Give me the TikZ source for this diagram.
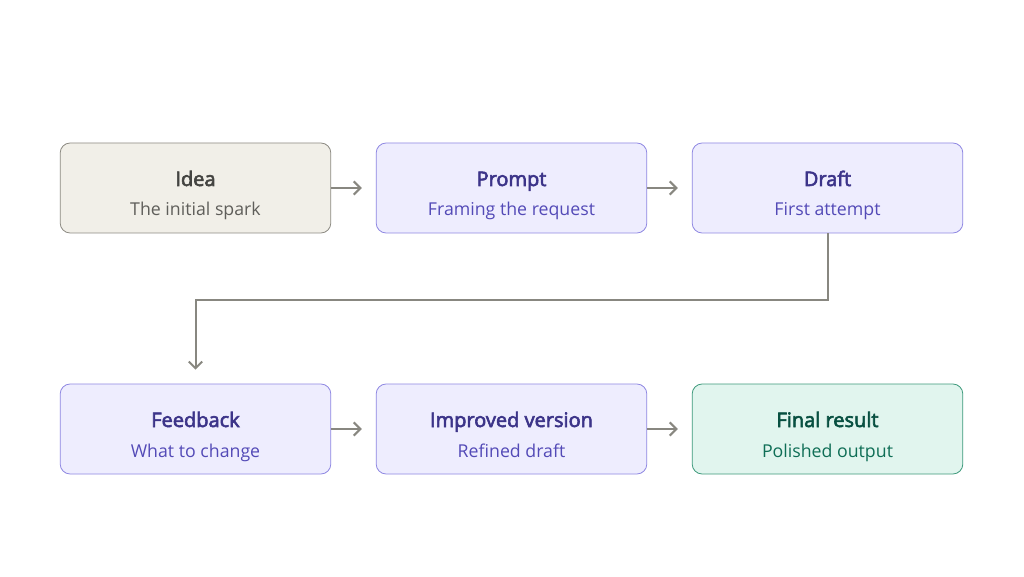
\documentclass[tikz,border=0pt]{standalone}
\usepackage{fontspec}
\setmainfont{Open Sans}
\newfontfamily\stagetitlefont{Open Sans}[FakeBold=3]
\usetikzlibrary{arrows.meta}
\definecolor{ideafill}{HTML}{F1EFE8}
\definecolor{ideaborder}{HTML}{8C8A82}
\definecolor{ideatitle}{HTML}{444441}
\definecolor{ideasub}{HTML}{5F5E5A}
\definecolor{purpfill}{HTML}{EEEDFE}
\definecolor{purpborder}{HTML}{8E87E2}
\definecolor{purptitle}{HTML}{3C3489}
\definecolor{purpsub}{HTML}{534AB7}
\definecolor{greenfill}{HTML}{E1F5EE}
\definecolor{greenborder}{HTML}{3E9A7C}
\definecolor{greentitle}{HTML}{085041}
\definecolor{greensub}{HTML}{0F6E56}
\definecolor{arrowgray}{HTML}{888780}
\tikzset{
  stagebox/.style={draw, rounded corners=7.5pt, line width=0.6pt, minimum width=203pt, minimum height=67.5pt, inner sep=0pt},
  ideabox/.style={stagebox, fill=ideafill, draw=ideaborder},
  purpbox/.style={stagebox, fill=purpfill, draw=purpborder},
  greenbox/.style={stagebox, fill=greenfill, draw=greenborder},
  titletext/.style={anchor=base, font=\fontsize{15}{18}\stagetitlefont, inner sep=0pt},
  subtext/.style={anchor=base, font=\fontsize{13.3}{16}\selectfont, inner sep=0pt},
  flow/.style={draw=arrowgray, line width=1.5pt, -{Straight Barb[length=5pt, width=10pt, line width=1.5pt]}}
}
\begin{document}
\begin{tikzpicture}[x=0.75pt, y=-0.75pt]
\useasboundingbox (0,0) rectangle (1024,577);
\fill[white] (0,0) rectangle (1024,577);
% top row
\node[ideabox]  (idea)   at (195.5,188) {};
\node[purpbox]  (prompt) at (511.5,188) {};
\node[purpbox]  (draft)  at (827.5,188) {};
% bottom row
\node[purpbox]  (feedback) at (195.5,429) {};
\node[purpbox]  (improved) at (511.5,429) {};
\node[greenbox] (final)    at (827.5,429) {};
% texts
\node[titletext, text=ideatitle] (ideaT) at ([yshift=1.5pt]idea.center) {Idea};
\node[subtext, text=ideasub] (ideaS) at ([yshift=-21pt]idea.center) {The initial spark};
\node[titletext, text=purptitle] (promptT) at ([yshift=1.5pt]prompt.center) {Prompt};
\node[subtext, text=purpsub] (promptS) at ([yshift=-21pt]prompt.center) {Framing the request};
\node[titletext, text=purptitle] (draftT) at ([yshift=1.5pt]draft.center) {Draft};
\node[subtext, text=purpsub] (draftS) at ([yshift=-21pt]draft.center) {First attempt};
\node[titletext, text=purptitle] (feedbackT) at ([yshift=1.5pt]feedback.center) {Feedback};
\node[subtext, text=purpsub] (feedbackS) at ([yshift=-21pt]feedback.center) {What to change};
\node[titletext, text=purptitle] (improvedT) at ([yshift=1.5pt]improved.center) {Improved version};
\node[subtext, text=purpsub] (improvedS) at ([yshift=-21pt]improved.center) {Refined draft};
\node[titletext, text=greentitle] (finalT) at ([yshift=1.5pt]final.center) {Final result};
\node[subtext, text=greensub] (finalS) at ([yshift=-21pt]final.center) {Polished output};
% connectors
\draw[flow] (idea.east) -- ([xshift=-10.5pt]prompt.west);
\draw[flow] (prompt.east) -- ([xshift=-10.5pt]draft.west);
\draw[flow] (feedback.east) -- ([xshift=-10.5pt]improved.west);
\draw[flow] (improved.east) -- ([xshift=-10.5pt]final.west);
\coordinate (bendR) at (827.5,300);
\coordinate (bendL) at (195.5,300);
\draw[flow] (draft.south) -- (bendR) -- (bendL) -- ([yshift=10.5pt]feedback.north);
\end{tikzpicture}
\end{document}
